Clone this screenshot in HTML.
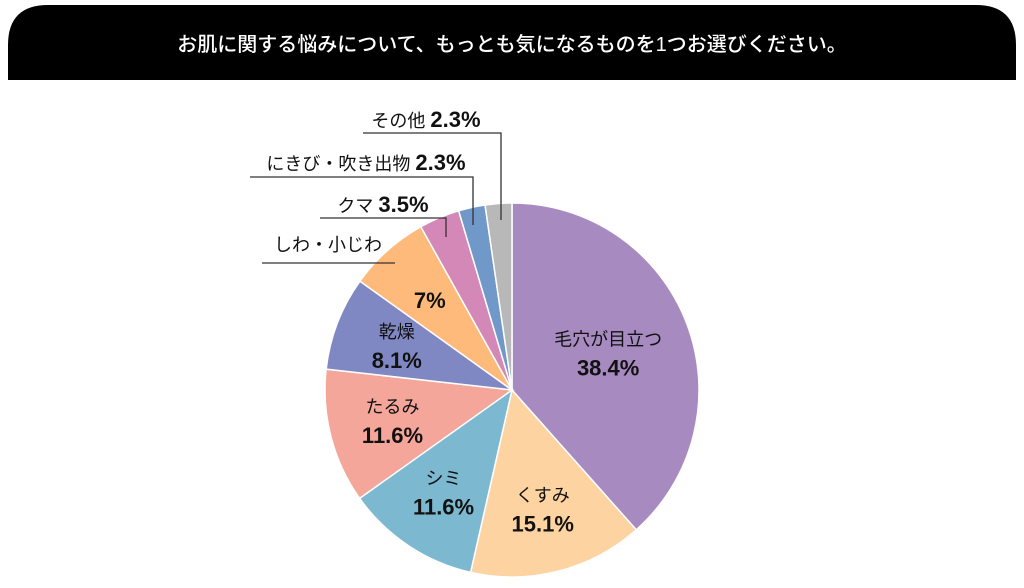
<!DOCTYPE html>
<html><head><meta charset="utf-8"><style>
body{margin:0;width:1024px;height:583px;background:#fff;overflow:hidden;font-family:"Liberation Sans","Noto Sans CJK JP",sans-serif}
</style></head><body>
<svg width="1024" height="583" style="font-family:'Liberation Sans','Noto Sans CJK JP',sans-serif">
<path d="M8,80 V45 Q8,5 48,5 H976 Q1016,5 1016,45 V80 Z" fill="#000"/>
<text x="512" y="51" fill="#fff" font-size="20" text-anchor="middle" font-weight="500">お肌に関する悩みについて、もっとも気になるものを1つお選びください。</text>
<g id="slices"></g>
<g id="labels" font-weight="bold" fill="#111"></g>
<g stroke="#333" stroke-width="1.3" fill="none">
<polyline points="363,133 501,133 501,220"/>
<polyline points="250,177 473,177 473,225"/>
<polyline points="320,218 446,218 446,237"/>
<polyline points="262,263 395,263"/>
</g>
</svg>
<script>
const categories=["毛穴が目立つ","くすみ","シミ","たるみ","乾燥","しわ・小じわ","クマ","にきび・吹き出物","その他"];
const values=[38.4,15.1,11.6,11.6,8.1,7,3.5,2.3,2.3];
const colors=["#a78bc0","#fdd3a2","#7cb8cf","#f4a69b","#8088c3","#fdba7a","#d488b8","#7099c9","#b8b8b8"];
const valueLabels=["38.4%","15.1%","11.6%","11.6%","8.1%","7%","3.5%","2.3%","2.3%"];
const cx=512,cy=390,r=187,NS="http://www.w3.org/2000/svg";
const total=values.reduce((a,b)=>a+b,0);
const g=document.getElementById('slices'),lg=document.getElementById('labels');
let a0=0;
function pt(a,rr){return [cx+rr*Math.sin(a),cy-rr*Math.cos(a)];}
values.forEach((v,i)=>{
 const a1=a0+v/total*2*Math.PI;
 const [x0,y0]=pt(a0,r),[x1,y1]=pt(a1,r);
 const p=document.createElementNS(NS,'path');
 p.setAttribute('d',`M${cx},${cy} L${x0},${y0} A${r},${r} 0 ${a1-a0>Math.PI?1:0} 1 ${x1},${y1} Z`);
 p.setAttribute('fill',colors[i]);p.setAttribute('stroke','#fff');p.setAttribute('stroke-width','1.5');
 
 
 g.appendChild(p);
 const mid=(a0+a1)/2;
 let lines;
 if(i<6){
  const rr=i==0?0.55:0.66;const [lx,ly]=pt(mid,r*rr);
  lines=i==5?[[lx,ly+10,valueLabels[i],22]]:[[lx,ly-8,categories[i],18],[lx,ly+22,valueLabels[i],22]];
  if(i==5){const t0=document.createElementNS(NS,'text');t0.setAttribute('x',328);t0.setAttribute('y',251);t0.setAttribute('font-size','18');t0.setAttribute('font-weight','normal');t0.setAttribute('text-anchor','middle');t0.textContent=categories[i];
   
   lg.appendChild(t0);}
 } else {
  const pos=[[383,212],[366,170],[426,127]][i-6];
  lines=[[pos[0],pos[1],categories[i]+" ",18,valueLabels[i]]];
 }
 lines.forEach((l,k)=>{
  const t=document.createElementNS(NS,'text');
  t.setAttribute('x',l[0]);t.setAttribute('y',l[1]);t.setAttribute('font-size',l[3]);t.setAttribute('text-anchor','middle');
  if(l[3]==18)t.setAttribute('font-weight','normal');
  t.textContent=l[2];
  if(l[4]){const s=document.createElementNS(NS,'tspan');s.setAttribute('font-size','22');s.setAttribute('font-weight','bold');s.textContent=l[4];t.appendChild(s);}
  
  
  lg.appendChild(t);
 });
 a0=a1;
});
</script>
</body></html>
